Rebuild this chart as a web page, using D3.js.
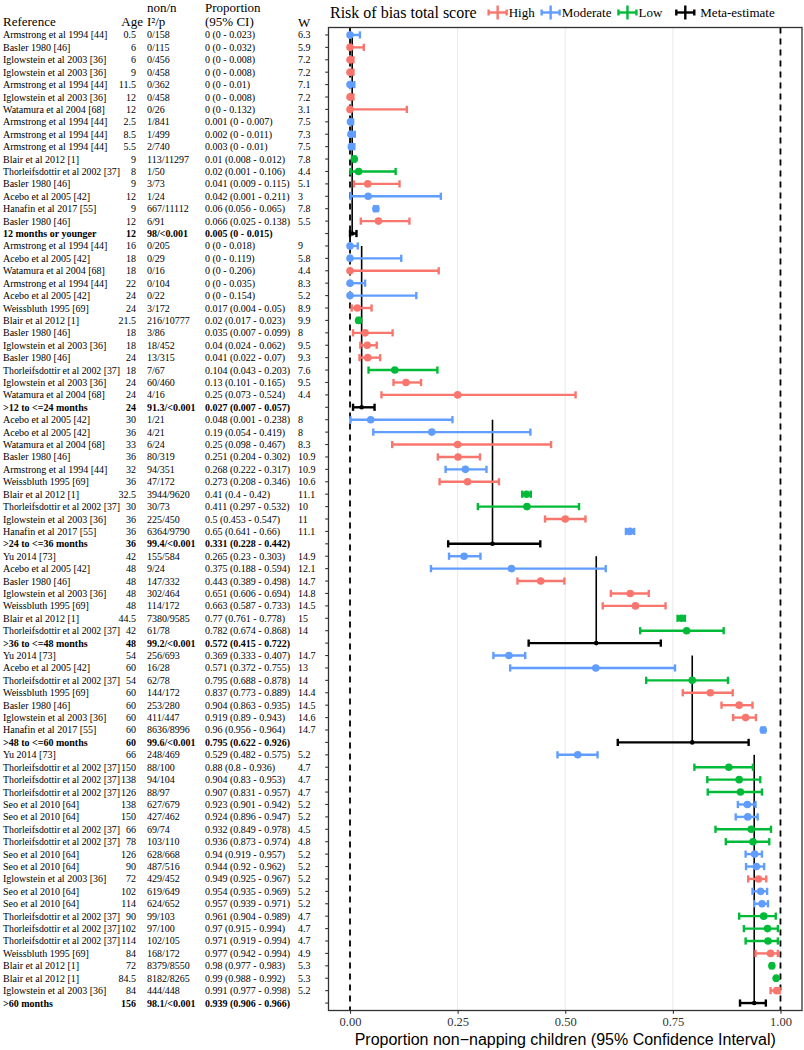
<!DOCTYPE html>
<html><head><meta charset="utf-8">
<script src="https://cdn.jsdelivr.net/npm/d3@7"></script>
<style>body{margin:0;background:#fff} svg{display:block}</style>
</head><body><svg id="c" width="804" height="1050"></svg>
<script>
// ---------------- data ----------------
const studyRefs = [
"Armstrong et al 1994 [44]","Basler 1980 [46]","Iglowstein et al 2003 [36]","Iglowstein et al 2003 [36]",
"Armstrong et al 1994 [44]","Iglowstein et al 2003 [36]","Watamura et al 2004 [68]","Armstrong et al 1994 [44]",
"Armstrong et al 1994 [44]","Armstrong et al 1994 [44]","Blair et al 2012 [1]","Thorleifsdottir et al 2002 [37]",
"Basler 1980 [46]","Acebo et al 2005 [42]","Hanafin et al 2017 [55]","Basler 1980 [46]",
"Armstrong et al 1994 [44]","Acebo et al 2005 [42]","Watamura et al 2004 [68]","Armstrong et al 1994 [44]",
"Acebo et al 2005 [42]","Weissbluth 1995 [69]","Blair et al 2012 [1]","Basler 1980 [46]",
"Iglowstein et al 2003 [36]","Basler 1980 [46]","Thorleifsdottir et al 2002 [37]","Iglowstein et al 2003 [36]",
"Watamura et al 2004 [68]",
"Acebo et al 2005 [42]","Acebo et al 2005 [42]","Watamura et al 2004 [68]","Basler 1980 [46]",
"Armstrong et al 1994 [44]","Weissbluth 1995 [69]","Blair et al 2012 [1]","Thorleifsdottir et al 2002 [37]",
"Iglowstein et al 2003 [36]","Hanafin et al 2017 [55]",
"Yu 2014 [73]","Acebo et al 2005 [42]","Basler 1980 [46]","Iglowstein et al 2003 [36]",
"Weissbluth 1995 [69]","Blair et al 2012 [1]","Thorleifsdottir et al 2002 [37]",
"Yu 2014 [73]","Acebo et al 2005 [42]","Thorleifsdottir et al 2002 [37]","Weissbluth 1995 [69]",
"Basler 1980 [46]","Iglowstein et al 2003 [36]","Hanafin et al 2017 [55]",
"Yu 2014 [73]","Thorleifsdottir et al 2002 [37]","Thorleifsdottir et al 2002 [37]","Thorleifsdottir et al 2002 [37]",
"Seo et al 2010 [64]","Seo et al 2010 [64]","Thorleifsdottir et al 2002 [37]","Thorleifsdottir et al 2002 [37]",
"Seo et al 2010 [64]","Seo et al 2010 [64]","Iglowstein et al 2003 [36]","Seo et al 2010 [64]",
"Seo et al 2010 [64]","Thorleifsdottir et al 2002 [37]","Thorleifsdottir et al 2002 [37]","Thorleifsdottir et al 2002 [37]",
"Weissbluth 1995 [69]","Blair et al 2012 [1]","Blair et al 2012 [1]","Iglowstein et al 2003 [36]"
];
const studyAges = [0.5,6,6,9,11.5,12,12,2.5,8.5,5.5,9,8,9,12,9,12,
16,18,18,22,24,24,21.5,18,18,24,18,24,24,
30,36,33,36,32,36,32.5,30,36,36,
42,48,48,48,48,44.5,42,
54,60,54,60,60,60,60,
66,150,138,126,138,150,66,78,126,90,72,102,114,90,102,114,84,72,84.5,84];
const studyCounts = ["0/158","0/115","0/456","0/458","0/362","0/458","0/26","1/841","1/499","2/740","113/11297","1/50","3/73","1/24","667/11112","6/91",
"0/205","0/29","0/16","0/104","0/22","3/172","216/10777","3/86","18/452","13/315","7/67","60/460","4/16",
"1/21","4/21","6/24","80/319","94/351","47/172","3944/9620","30/73","225/450","6364/9790",
"155/584","9/24","147/332","302/464","114/172","7380/9585","61/78",
"256/693","16/28","62/78","144/172","253/280","411/447","8636/8996",
"248/469","88/100","94/104","88/97","627/679","427/462","69/74","103/110","628/668","487/516","429/452","619/649","624/652","99/103","97/100","102/105","168/172","8379/8550","8182/8265","444/448"];
const studyProps = [0,0,0,0,0,0,0,0.001,0.002,0.003,0.01,0.02,0.041,0.042,0.06,0.066,
0,0,0,0,0,0.017,0.02,0.035,0.04,0.041,0.104,0.13,0.25,
0.048,0.19,0.25,0.251,0.268,0.273,0.41,0.411,0.5,0.65,
0.265,0.375,0.443,0.651,0.663,0.77,0.782,
0.369,0.571,0.795,0.837,0.904,0.919,0.96,
0.529,0.88,0.904,0.907,0.923,0.924,0.932,0.936,0.94,0.944,0.949,0.954,0.957,0.961,0.97,0.971,0.977,0.98,0.99,0.991];
const studyLower = [0,0,0,0,0,0,0,0,0,0,0.008,0.001,0.009,0.001,0.056,0.025,
0,0,0,0,0,0.004,0.017,0.007,0.024,0.022,0.043,0.101,0.073,
0.001,0.054,0.098,0.204,0.222,0.208,0.4,0.297,0.453,0.641,
0.23,0.188,0.389,0.606,0.587,0.761,0.674,
0.333,0.372,0.688,0.773,0.863,0.89,0.956,
0.482,0.8,0.83,0.831,0.901,0.896,0.849,0.873,0.919,0.92,0.925,0.935,0.939,0.904,0.915,0.919,0.942,0.977,0.988,0.977];
const studyUpper = [0.023,0.032,0.008,0.008,0.01,0.008,0.132,0.007,0.011,0.01,0.012,0.106,0.115,0.211,0.065,0.138,
0.018,0.119,0.206,0.035,0.154,0.05,0.023,0.099,0.062,0.07,0.203,0.165,0.524,
0.238,0.419,0.467,0.302,0.317,0.346,0.42,0.532,0.547,0.66,
0.303,0.594,0.498,0.694,0.733,0.778,0.868,
0.407,0.755,0.878,0.889,0.935,0.943,0.964,
0.575,0.936,0.953,0.957,0.942,0.947,0.978,0.974,0.957,0.962,0.967,0.969,0.971,0.989,0.994,0.994,0.994,0.983,0.992,0.998];
const studyWeights = [6.3,5.9,7.2,7.2,7.1,7.2,3.1,7.5,7.3,7.5,7.8,4.4,5.1,3,7.8,5.5,
9,5.8,4.4,8.3,5.2,8.9,9.9,8,9.5,9.3,7.6,9.5,4.4,
8,8,8.3,10.9,10.9,10.6,11.1,10,11,11.1,
14.9,12.1,14.7,14.8,14.5,15,14,
14.7,13,14,14.4,14.5,14.6,14.7,
5.2,4.7,4.7,4.7,5.2,5.2,4.5,4.8,5.2,5.2,5.2,5.2,5.2,4.7,4.7,4.7,4.9,5.3,5.3,5.2];
const studyBias = ["Moderate","High","High","High","Moderate","High","High","Moderate","Moderate","Moderate","Low","Low","High","Moderate","Moderate","High",
"Moderate","Moderate","High","Moderate","Moderate","High","Low","High","High","High","Low","High","High",
"Moderate","Moderate","High","High","Moderate","High","Low","Low","High","Moderate",
"Moderate","Moderate","High","High","High","Low","Low",
"Moderate","Moderate","Low","High","High","High","Moderate",
"Moderate","Low","Low","Low","Moderate","Moderate","Low","Low","Moderate","Moderate","High","Moderate","Moderate","Low","Low","Low","High","Low","Low","High"];
const groupSizes = [16,13,10,7,7,20];
const groupLabels = ["12 months or younger",">12 to <=24 months",">24 to <=36 months",">36 to <=48 months",">48 to <=60 months",">60 months"];
const groupAges = [12,24,36,48,60,156];
const groupHet = ["98/<0.001","91.3/<0.001","99.4/<0.001","99.2/<0.001","99.6/<0.001","98.1/<0.001"];
const groupEst = [0.005,0.027,0.331,0.572,0.795,0.939];
const groupLower = [0,0.007,0.228,0.415,0.622,0.906];
const groupUpper = [0.015,0.057,0.442,0.722,0.926,0.966];
const legendLevels = ["High","Moderate","Low","Meta-estimate"];
const legendColors = ["#F8766D","#619CFF","#00BA38","#000000"];
const xTicks = [0,0.25,0.5,0.75,1];
const xTickLabels = ["0.00","0.25","0.50","0.75","1.00"];

// ---------------- build rows ----------------
const rows = [];
const groupSpans = [];
let s = 0;
groupSizes.forEach((n, g) => {
  const first = rows.length;
  for (let i = 0; i < n; i++, s++) {
    rows.push({type: "study", ref: studyRefs[s], age: studyAges[s], cnt: studyCounts[s],
      p: studyProps[s], lo: studyLower[s], hi: studyUpper[s], w: studyWeights[s], bias: studyBias[s]});
  }
  rows.push({type: "meta", ref: groupLabels[g], age: groupAges[g], cnt: groupHet[g],
    p: groupEst[g], lo: groupLower[g], hi: groupUpper[g], w: "", bias: "Meta-estimate"});
  groupSpans.push({first, last: rows.length - 1, est: groupEst[g]});
});
rows.forEach((r, i) => r.idx = i);

const color = d3.scaleOrdinal().domain(legendLevels).range(legendColors);
const SERIF = "'Liberation Serif','Times New Roman',serif";
const SANS = "'Liberation Sans',Arial,sans-serif";

const P = {left: 328.5, right: 802, top: 27.5, bottom: 1010.5};
const x = d3.scaleLinear().domain([-0.05, 1.05]).range([P.left, P.right]);
const y = d3.scalePoint().domain(rows.map(r => r.idx)).range([P.top, P.bottom]).padding(0.6);

const svg = d3.select("#c");
svg.append("rect").attr("width", 804).attr("height", 1050).attr("fill", "#fff");

// grid
const plot = svg.append("g");
plot.selectAll("line.grid").data(xTicks).join("line")
  .attr("x1", d => x(d)).attr("x2", d => x(d)).attr("y1", P.top).attr("y2", P.bottom)
  .attr("stroke", "#ebebeb").attr("stroke-width", 1.1);

// dashed reference lines at 0 and 1
plot.selectAll("line.ref").data([0, 1]).join("line")
  .attr("x1", d => x(d)).attr("x2", d => x(d)).attr("y1", P.top).attr("y2", P.bottom)
  .attr("stroke", "#000").attr("stroke-width", 1.8).attr("stroke-dasharray", "6,5");

// meta vertical lines
plot.selectAll("line.mv").data(groupSpans).join("line")
  .attr("x1", d => x(d.est)).attr("x2", d => x(d.est))
  .attr("y1", d => y(d.first)).attr("y2", d => y(d.last))
  .attr("stroke", "#000").attr("stroke-width", 1.6);

// error bars
const cap = 3.6;
const eb = plot.selectAll("g.eb").data(rows).join("g")
  .attr("stroke", d => color(d.bias)).attr("stroke-width", 2.4).attr("fill", "none");
eb.append("line").attr("x1", d => x(d.lo)).attr("x2", d => x(d.hi)).attr("y1", d => y(d.idx)).attr("y2", d => y(d.idx));
eb.append("line").attr("x1", d => x(d.lo)).attr("x2", d => x(d.lo)).attr("y1", d => y(d.idx) - cap).attr("y2", d => y(d.idx) + cap);
eb.append("line").attr("x1", d => x(d.hi)).attr("x2", d => x(d.hi)).attr("y1", d => y(d.idx) - cap).attr("y2", d => y(d.idx) + cap);

// points
plot.selectAll("circle.pt").data(rows).join("circle")
  .attr("cx", d => x(d.p)).attr("cy", d => y(d.idx))
  .attr("r", d => d.type === "meta" ? 2.3 : 3.8)
  .attr("fill", d => color(d.bias));

// panel border
svg.append("rect").attr("x", P.left).attr("y", P.top)
  .attr("width", P.right - P.left).attr("height", P.bottom - P.top)
  .attr("fill", "none").attr("stroke", "#333").attr("stroke-width", 1.3);

// left ticks
svg.selectAll("line.yt").data(rows).join("line")
  .attr("x1", P.left - 3.3).attr("x2", P.left).attr("y1", d => y(d.idx)).attr("y2", d => y(d.idx))
  .attr("stroke", "#333").attr("stroke-width", 1.1);

// x axis
const xAxis = d3.axisBottom(x).tickValues(xTicks).tickFormat((d, i) => xTickLabels[i]).tickSize(3.3).tickPadding(3);
const gx = svg.append("g").attr("transform", `translate(0,${P.bottom})`).call(xAxis);
gx.select(".domain").remove();
gx.selectAll("line").attr("stroke", "#333").attr("stroke-width", 1.1);
gx.selectAll("text").attr("font-family", SERIF).attr("font-size", 12.5).attr("fill", "#333");

svg.append("text").attr("x", (x(-0.05) + x(1.05)) / 2).attr("y", 1045)
  .attr("text-anchor", "middle").attr("font-family", SANS).attr("font-size", 16).attr("fill", "#000")
  .text("Proportion non\u2212napping children (95% Confidence Interval)");

// ---------------- table ----------------
const tbl = svg.append("g").attr("font-family", SERIF).attr("fill", "#000");
const H = tbl.append("g").attr("font-size", 13);
H.append("text").attr("x", 147).attr("y", 11.5).text("non/n");
H.append("text").attr("x", 205).attr("y", 11.5).text("Proportion");
H.append("text").attr("x", 3).attr("y", 26).text("Reference");
H.append("text").attr("x", 143).attr("y", 26).attr("text-anchor", "end").text("Age");
H.append("text").attr("x", 147).attr("y", 26).text("I\u00B2/p");
H.append("text").attr("x", 205).attr("y", 26).text("(95% CI)");
H.append("text").attr("x", 298).attr("y", 27).text("W");

const rowG = tbl.selectAll("g.row").data(rows).join("g")
  .attr("transform", d => `translate(0,${y(d.idx)})`)
  .attr("font-size", 10).attr("font-weight", d => d.type === "meta" ? "bold" : "normal");
const refText = rowG.append("text").attr("x", 3).attr("dy", "0.35em").text(d => d.ref);
refText.each(function() {
  if (this.getComputedTextLength() > 117) {
    d3.select(this).attr("textLength", 117).attr("lengthAdjust", "spacingAndGlyphs");
  }
});
rowG.append("text").attr("x", 136).attr("dy", "0.35em").attr("text-anchor", "end").text(d => String(d.age));
rowG.append("text").attr("x", 147).attr("dy", "0.35em").text(d => d.cnt);
rowG.append("text").attr("x", 205).attr("dy", "0.35em").text(d => `${d.p} (${d.lo} - ${d.hi})`);
rowG.append("text").attr("x", 298).attr("dy", "0.35em").text(d => String(d.w));

// ---------------- legend ----------------
const lg = svg.append("g").attr("font-family", SERIF);
const lt = lg.append("text").attr("x", 330).attr("y", 18).attr("font-size", 16).text("Risk of bias total score");
let lx = 330 + lt.node().getComputedTextLength() + 11;
legendLevels.forEach((lev, i) => {
  const g = lg.append("g").attr("transform", `translate(${lx + 10},12.5)`)
    .attr("stroke", legendColors[i]).attr("stroke-width", 2.4);
  g.append("line").attr("x1", -9).attr("x2", 9).attr("y1", 0).attr("y2", 0);
  g.append("line").attr("x1", -9).attr("x2", -9).attr("y1", -3).attr("y2", 3);
  g.append("line").attr("x1", 9).attr("x2", 9).attr("y1", -3).attr("y2", 3);
  g.append("line").attr("x1", 0).attr("x2", 0).attr("y1", -7).attr("y2", 7);
  const t = lg.append("text").attr("x", lx + 21 + (i === 3 ? 4 : 0)).attr("y", 17).attr("font-size", 13).text(lev);
  lx += 21 + (i === 3 ? 4 : 0) + t.node().getComputedTextLength() + (i === 2 ? 13 : 6);
});
</script>
</body></html>
